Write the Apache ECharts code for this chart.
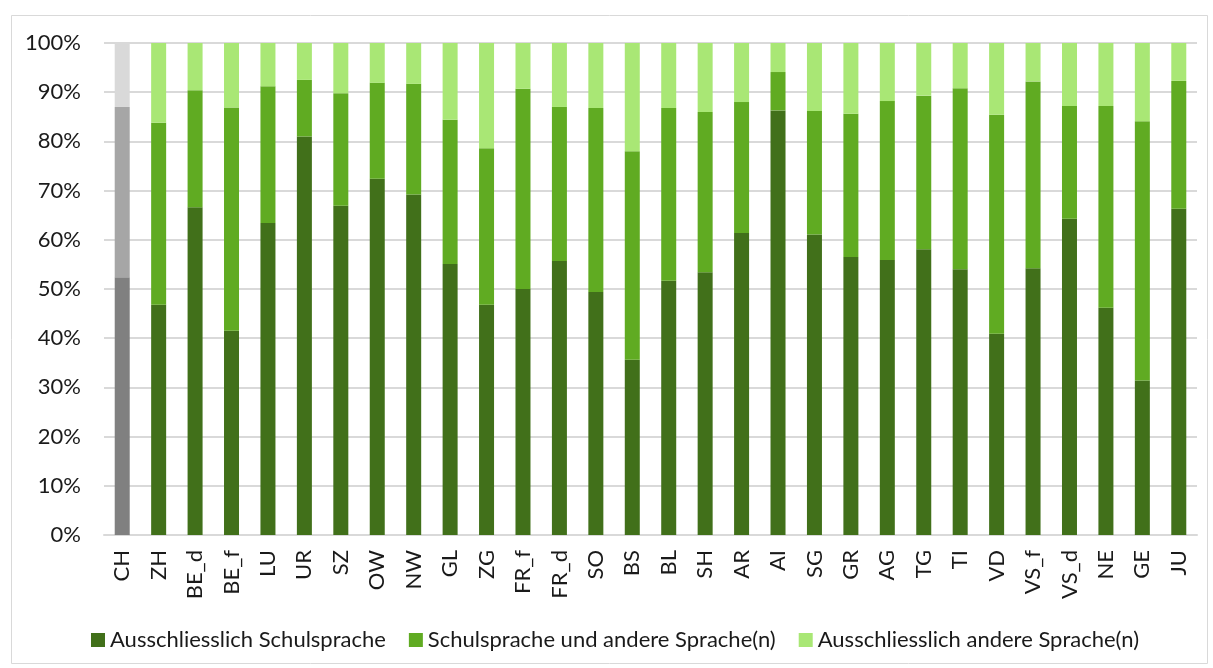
<!DOCTYPE html>
<html>
<head>
<meta charset="utf-8">
<script src="https://cdn.jsdelivr.net/npm/echarts@6/dist/echarts.min.js"></script>
<style>
html,body{margin:0;padding:0;background:#fff;}
#chart{width:1213px;height:668px;}
</style>
</head>
<body>
<div id="chart"></div>
<script>
const categories = ['CH','ZH','BE_d','BE_f','LU','UR','SZ','OW','NW','GL','ZG','FR_f','FR_d','SO','BS','BL','SH','AR','AI','SG','GR','AG','TG','TI','VD','VS_f','VS_d','NE','GE','JU'];
const seriesNames = ['Ausschliesslich Schulsprache','Schulsprache und andere Sprache(n)','Ausschliesslich andere Sprache(n)'];
const onlySchool = [52.4,46.8,66.6,41.5,63.4,81.0,66.9,72.4,69.2,55.1,46.8,50.0,55.7,49.4,35.6,51.7,53.4,61.4,86.3,61.1,56.5,55.9,58.1,54.0,40.9,54.2,64.3,46.2,31.4,66.3];
const schoolAndOther = [34.6,37.0,23.8,45.4,27.8,11.5,22.9,19.5,22.5,29.3,31.8,40.7,31.3,37.4,42.4,35.1,32.6,26.6,7.8,25.1,29.1,32.3,31.2,36.8,44.5,38.0,22.9,41.0,52.7,26.0];
const onlyOther = [13.0,16.2,9.6,13.1,8.8,7.5,10.2,8.1,8.3,15.6,21.4,9.3,13.0,13.2,22.0,13.2,14.0,12.0,5.9,13.8,14.4,11.8,10.7,9.2,14.6,7.8,12.8,12.8,15.9,7.7];
const yTicks = [0,10,20,30,40,50,60,70,80,90,100];

const greens = ['#41701A','#60AB22','#A9E775'];
const greys = ['#808080','#A6A6A6','#D9D9D9'];
const FONT = 'Lato';
const FS = 22;

function build(values, idx){
  return values.map((v,i)=> i===0 ? {value:v, itemStyle:{color:greys[idx]}} : v);
}
const allValues = [onlySchool, schoolAndOther, onlyOther];

const chart = echarts.init(document.getElementById('chart'), null, {renderer:'canvas'});
chart.setOption({
  animation:false,
  backgroundColor:'#fff',
  textStyle:{fontFamily:FONT},
  graphic:[{type:'rect', shape:{x:11.5,y:15.5,width:1196,height:648}, style:{fill:'none',stroke:'#D9D9D9',lineWidth:1}, silent:true, z:-1}],
  grid:{left:104,right:16,top:43,bottom:133},
  legend:{
    left:86, top:624,
    itemWidth:14, itemHeight:14, itemGap:23,
    icon:'rect',
    data:seriesNames,
    textStyle:{fontFamily:FONT,fontSize:FS,color:'#1a1a1a'}
  },
  xAxis:{
    type:'category', data:categories,
    axisLine:{lineStyle:{color:'#D9D9D9',width:2}},
    axisTick:{show:false},
    axisLabel:{rotate:90, margin:15, fontFamily:FONT, fontSize:FS, color:'#1a1a1a', interval:0}
  },
  yAxis:{
    type:'value', min:0, max:100, interval:10,
    axisLine:{show:false}, axisTick:{show:false},
    splitLine:{lineStyle:{color:'#D9D9D9',width:2}},
    axisLabel:{margin:23, fontFamily:FONT, fontSize:FS, color:'#1a1a1a', formatter:(v)=> yTicks.includes(v) ? v+'%' : ''}
  },
  series: seriesNames.map((name,k)=>({
    name, type:'bar', stack:'total', barWidth:15,
    itemStyle:{color:greens[k]},
    data: build(allValues[k], k)
  }))
});
</script>
</body>
</html>
